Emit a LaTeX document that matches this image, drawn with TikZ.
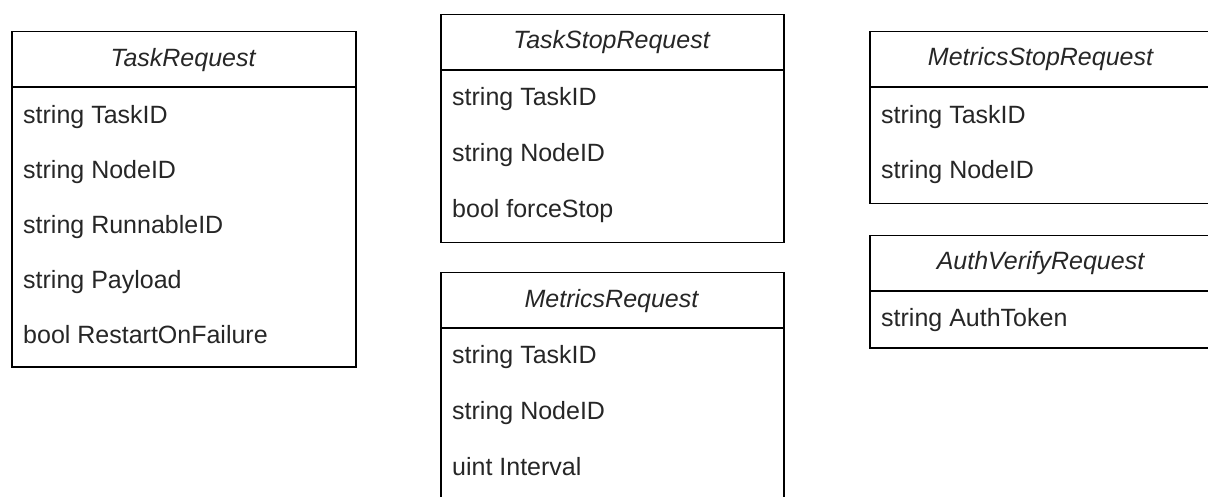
\documentclass[tikz,border=0pt]{standalone}
\usepackage{fontspec}
\setmainfont{Liberation Sans}
\begin{document}
\begin{tikzpicture}[x=1pt,y=-1pt,
  classbox/.style={draw=black, line width=1.5pt, rectangle, anchor=north west,
    inner sep=0pt, minimum width=#1},
  rule/.style={draw=black, line width=1.5pt},
  txt/.style={inner sep=0pt, text=black!85, font=\fontsize{25}{30}\selectfont,
    text height=18pt, text depth=4.5pt},
  hdr/.style={txt, font=\fontsize{25}{30}\selectfont\itshape},
  fld/.style={txt, anchor=west}]
\useasboundingbox (0,0) rectangle (1208,497);
\clip (0,0) rectangle (1208,497);

% TaskRequest
\node[classbox=344pt, minimum height=335pt] (tr) at (11,31) {};
\draw[rule] (11,87) -- (355,87);
\node[hdr] (trh) at (183,60) {TaskRequest};
\node[fld] (tr1) at (23,117) {string TaskID};
\node[fld] (tr2) at (23,172) {string NodeID};
\node[fld] (tr3) at (23,227) {string RunnableID};
\node[fld] (tr4) at (23,282) {string Payload};
\node[fld] (tr5) at (23,337) {bool RestartOnFailure};

% TaskStopRequest
\node[classbox=343pt, minimum height=228pt] (ts) at (440,14) {};
\draw[rule] (440,70) -- (783,70);
\node[hdr] (tsh) at (611.5,42) {TaskStopRequest};
\node[fld] (ts1) at (452,99) {string TaskID};
\node[fld] (ts2) at (452,155) {string NodeID};
\node[fld] (ts3) at (452,211) {bool forceStop};

% MetricsRequest (continues past the lower edge)
\node[classbox=343pt, minimum height=268pt] (mr) at (440,272) {};
\draw[rule] (440,328) -- (783,328);
\node[hdr] (mrh) at (611.5,301) {MetricsRequest};
\node[fld] (mr1) at (452,357) {string TaskID};
\node[fld] (mr2) at (452,413) {string NodeID};
\node[fld] (mr3) at (452,469) {uint Interval};

% MetricsStopRequest
\node[classbox=343pt, minimum height=172pt] (ms) at (869,31) {};
\draw[rule] (869,87) -- (1212,87);
\node[hdr] (msh) at (1040.5,59) {MetricsStopRequest};
\node[fld] (ms1) at (881,117) {string TaskID};
\node[fld] (ms2) at (881,172) {string NodeID};

% AuthVerifyRequest
\node[classbox=343pt, minimum height=112pt] (av) at (869,235) {};
\draw[rule] (869,291) -- (1212,291);
\node[hdr] (avh) at (1040.5,263) {AuthVerifyRequest};
\node[fld] (av1) at (881,320) {string AuthToken};
\end{tikzpicture}
\end{document}
